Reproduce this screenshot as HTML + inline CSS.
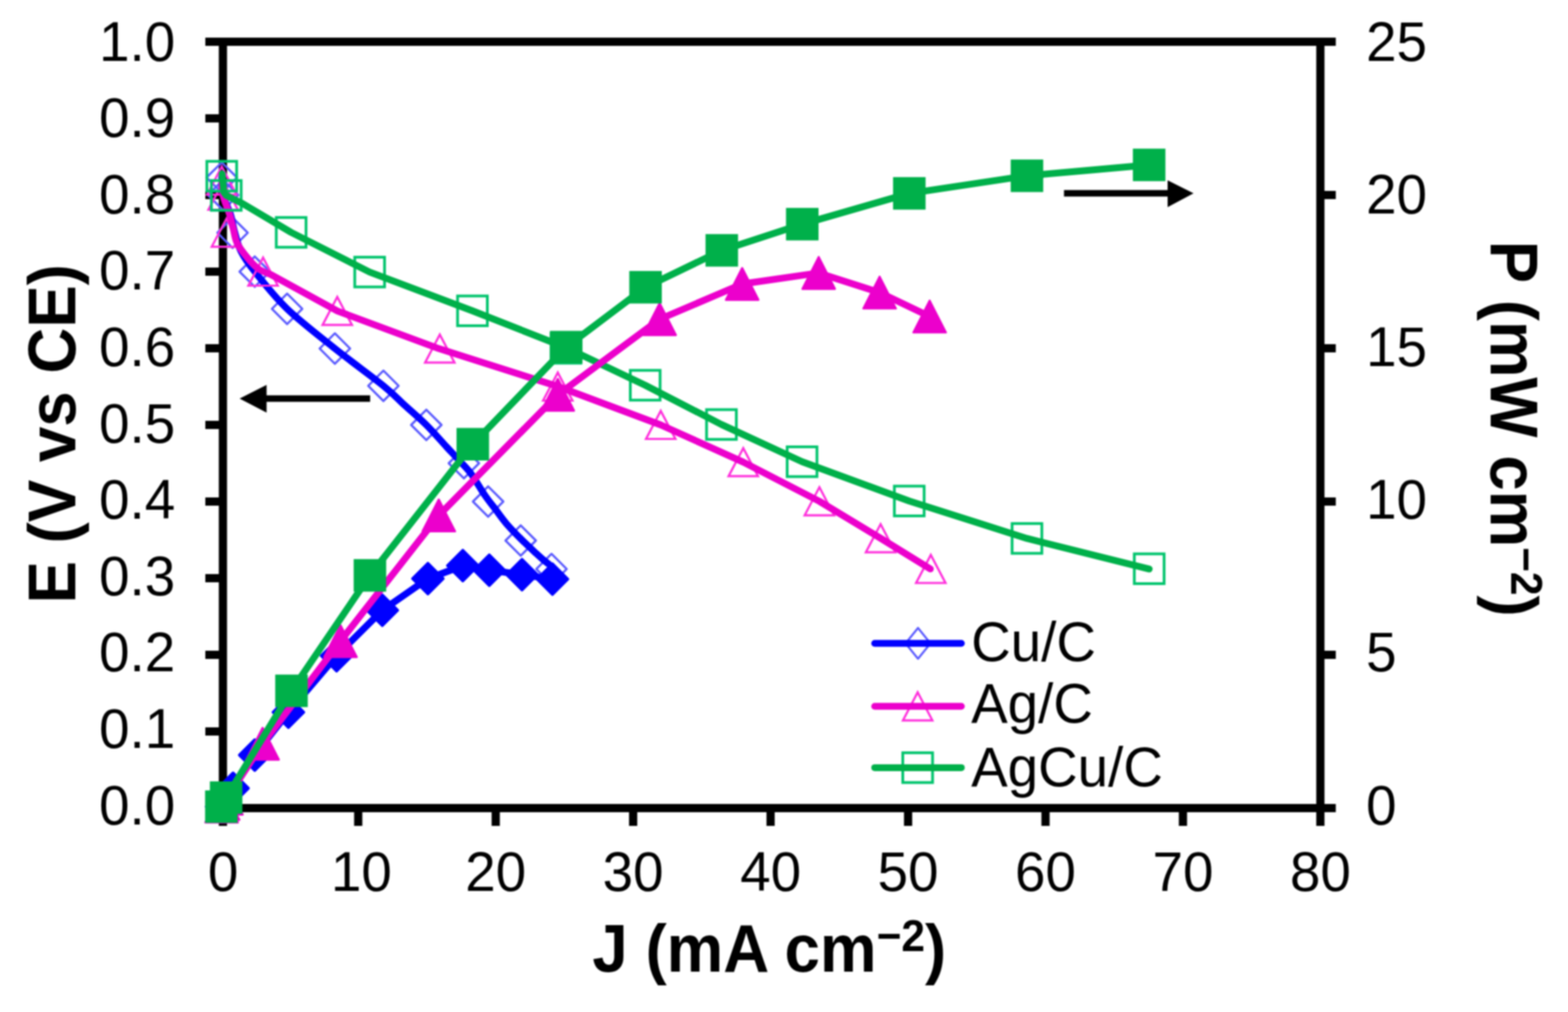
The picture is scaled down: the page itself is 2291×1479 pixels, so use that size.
<!DOCTYPE html>
<html><head><meta charset="utf-8"><title>Polarization and power density curves</title>
<style>html,body{margin:0;padding:0;background:#fff;}svg{display:block;filter:blur(0.8px);}text{font-family:"Liberation Sans",Arial,sans-serif;fill:#000;}</style>
</head><body>
<svg width="2291" height="1479" viewBox="0 0 2291 1479">
<rect width="2291" height="1479" fill="#fff"/>
<g stroke="#000" stroke-width="12.0" fill="none" stroke-linecap="butt">
<path d="M300.0 61.0 H1951.7"/>
<path d="M300.0 1181.0 H1951.7"/>
<path d="M325.7 55.0 V1207.0"/>
<path d="M1929.2 55.0 V1207.0"/>
<path d="M300 1069.0 H325.7"/>
<path d="M300 957.0 H325.7"/>
<path d="M300 845.0 H325.7"/>
<path d="M300 733.0 H325.7"/>
<path d="M300 621.0 H325.7"/>
<path d="M300 509.0 H325.7"/>
<path d="M300 397.0 H325.7"/>
<path d="M300 285.0 H325.7"/>
<path d="M300 173.0 H325.7"/>
<path d="M1929.2 957.0 H1951.7"/>
<path d="M1929.2 733.0 H1951.7"/>
<path d="M1929.2 509.0 H1951.7"/>
<path d="M1929.2 285.0 H1951.7"/>
<path d="M523.4 1181.0 V1207.0"/>
<path d="M724.3 1181.0 V1207.0"/>
<path d="M925.1 1181.0 V1207.0"/>
<path d="M1125.9 1181.0 V1207.0"/>
<path d="M1326.8 1181.0 V1207.0"/>
<path d="M1527.6 1181.0 V1207.0"/>
<path d="M1728.4 1181.0 V1207.0"/>
</g>
<g font-size="80">
<text transform="translate(256.0 1204.6) scale(1 1.030)" text-anchor="end">0.0</text>
<text transform="translate(256.0 1093.0) scale(1 1.030)" text-anchor="end">0.1</text>
<text transform="translate(256.0 981.4) scale(1 1.030)" text-anchor="end">0.2</text>
<text transform="translate(256.0 869.8) scale(1 1.030)" text-anchor="end">0.3</text>
<text transform="translate(256.0 758.2) scale(1 1.030)" text-anchor="end">0.4</text>
<text transform="translate(256.0 646.5) scale(1 1.030)" text-anchor="end">0.5</text>
<text transform="translate(256.0 534.9) scale(1 1.030)" text-anchor="end">0.6</text>
<text transform="translate(256.0 423.3) scale(1 1.030)" text-anchor="end">0.7</text>
<text transform="translate(256.0 311.7) scale(1 1.030)" text-anchor="end">0.8</text>
<text transform="translate(256.0 200.1) scale(1 1.030)" text-anchor="end">0.9</text>
<text transform="translate(256.0 88.5) scale(1 1.030)" text-anchor="end">1.0</text>
<text transform="translate(1996.0 1204.6) scale(1 1.030)">0</text>
<text transform="translate(1996.0 981.4) scale(1 1.030)">5</text>
<text transform="translate(1996.0 758.2) scale(1 1.030)">10</text>
<text transform="translate(1996.0 534.9) scale(1 1.030)">15</text>
<text transform="translate(1996.0 311.7) scale(1 1.030)">20</text>
<text transform="translate(1996.0 88.5) scale(1 1.030)">25</text>
<text transform="translate(326.0 1302.0) scale(1 1.030)" text-anchor="middle">0</text>
<text transform="translate(527.9 1302.0) scale(1 1.030)" text-anchor="middle">10</text>
<text transform="translate(724.3 1302.0) scale(1 1.030)" text-anchor="middle">20</text>
<text transform="translate(925.1 1302.0) scale(1 1.030)" text-anchor="middle">30</text>
<text transform="translate(1125.9 1302.0) scale(1 1.030)" text-anchor="middle">40</text>
<text transform="translate(1326.8 1302.0) scale(1 1.030)" text-anchor="middle">50</text>
<text transform="translate(1527.6 1302.0) scale(1 1.030)" text-anchor="middle">60</text>
<text transform="translate(1728.4 1302.0) scale(1 1.030)" text-anchor="middle">70</text>
<text transform="translate(1929.2 1302.0) scale(1 1.030)" text-anchor="middle">80</text>
</g>
<g font-size="93" font-weight="bold">
<text transform="translate(1124 1420) scale(1 1.050)" text-anchor="middle">J (mA cm<tspan font-size="62" dy="-29">−2</tspan><tspan dy="29">)</tspan></text>
<text transform="translate(109.6 634) rotate(-90) scale(1 1.050)" text-anchor="middle">E (V vs CE)</text>
<text transform="translate(2177.8 626.5) rotate(90) scale(1 1.050)" text-anchor="middle">P (mW cm<tspan font-size="62" dy="-29">−2</tspan><tspan dy="29">)</tspan></text>
</g>
<polygon points="324.00,237.30 346.20,259.50 324.00,281.70 301.80,259.50" fill="none" stroke="#5A5AFF" stroke-width="3.2" stroke-linejoin="round"/>
<polygon points="326.00,262.80 348.20,285.00 326.00,307.20 303.80,285.00" fill="none" stroke="#5A5AFF" stroke-width="3.2" stroke-linejoin="round"/>
<polygon points="339.80,318.00 362.00,340.20 339.80,362.40 317.60,340.20" fill="none" stroke="#5A5AFF" stroke-width="3.2" stroke-linejoin="round"/>
<polygon points="372.20,374.80 394.40,397.00 372.20,419.20 350.00,397.00" fill="none" stroke="#5A5AFF" stroke-width="3.2" stroke-linejoin="round"/>
<polygon points="419.50,429.20 441.70,451.40 419.50,473.60 397.30,451.40" fill="none" stroke="#5A5AFF" stroke-width="3.2" stroke-linejoin="round"/>
<polygon points="489.30,487.20 511.50,509.40 489.30,531.60 467.10,509.40" fill="none" stroke="#5A5AFF" stroke-width="3.2" stroke-linejoin="round"/>
<polygon points="560.20,541.60 582.40,563.80 560.20,586.00 538.00,563.80" fill="none" stroke="#5A5AFF" stroke-width="3.2" stroke-linejoin="round"/>
<polygon points="622.90,598.80 645.10,621.00 622.90,643.20 600.70,621.00" fill="none" stroke="#5A5AFF" stroke-width="3.2" stroke-linejoin="round"/>
<polygon points="677.80,654.80 700.00,677.00 677.80,699.20 655.60,677.00" fill="none" stroke="#5A5AFF" stroke-width="3.2" stroke-linejoin="round"/>
<polygon points="713.20,710.80 735.40,733.00 713.20,755.20 691.00,733.00" fill="none" stroke="#5A5AFF" stroke-width="3.2" stroke-linejoin="round"/>
<polygon points="760.80,767.80 783.00,790.00 760.80,812.20 738.60,790.00" fill="none" stroke="#5A5AFF" stroke-width="3.2" stroke-linejoin="round"/>
<polygon points="805.80,809.40 828.00,831.60 805.80,853.80 783.60,831.60" fill="none" stroke="#5A5AFF" stroke-width="3.2" stroke-linejoin="round"/>
<path d="M324.00 259.50 C324.33 263.75 323.83 275.92 326.00 285.00 C328.17 294.08 334.23 305.17 337.00 314.00 C339.77 322.83 340.10 329.17 342.60 338.00 C345.10 346.83 347.07 357.17 352.00 367.00 C356.93 376.83 360.95 382.93 372.20 397.00 C383.45 411.07 399.98 432.67 419.50 451.40 C439.02 470.13 465.85 490.67 489.30 509.40 C512.75 528.13 543.25 550.03 560.20 563.80 C577.15 577.57 580.55 582.47 591.00 592.00 C601.45 601.53 612.67 610.83 622.90 621.00 C633.13 631.17 644.55 644.50 652.40 653.00 C660.25 661.50 664.07 665.50 670.00 672.00 C675.93 678.50 681.68 683.50 688.00 692.00 C694.32 700.50 701.88 714.23 707.90 723.00 C713.92 731.77 718.75 737.53 724.10 744.60 C729.45 751.67 733.75 758.15 740.00 765.40 C746.25 772.65 754.38 780.88 761.60 788.10 C768.82 795.32 777.88 803.65 783.30 808.70 C788.72 813.75 790.98 815.77 794.10 818.40 C797.22 821.03 800.68 823.48 802.00 824.50" fill="none" stroke="#0000FF" stroke-width="10.0" stroke-linecap="round" stroke-linejoin="round"/>
<polygon points="324.00,243.50 345.50,284.50 302.50,284.50" fill="none" stroke="#FF2EDC" stroke-width="3.2"/>
<polygon points="326.00,265.50 347.50,306.50 304.50,306.50" fill="none" stroke="#FF2EDC" stroke-width="3.2"/>
<polygon points="330.90,319.60 352.40,360.60 309.40,360.60" fill="none" stroke="#FF2EDC" stroke-width="3.2"/>
<polygon points="384.40,376.50 405.90,417.50 362.90,417.50" fill="none" stroke="#FF2EDC" stroke-width="3.2"/>
<polygon points="492.80,433.90 514.30,474.90 471.30,474.90" fill="none" stroke="#FF2EDC" stroke-width="3.2"/>
<polygon points="642.60,488.90 664.10,529.90 621.10,529.90" fill="none" stroke="#FF2EDC" stroke-width="3.2"/>
<polygon points="815.00,544.50 836.50,585.50 793.50,585.50" fill="none" stroke="#FF2EDC" stroke-width="3.2"/>
<polygon points="965.40,600.50 986.90,641.50 943.90,641.50" fill="none" stroke="#FF2EDC" stroke-width="3.2"/>
<polygon points="1086.00,654.90 1107.50,695.90 1064.50,695.90" fill="none" stroke="#FF2EDC" stroke-width="3.2"/>
<polygon points="1197.20,712.10 1218.70,753.10 1175.70,753.10" fill="none" stroke="#FF2EDC" stroke-width="3.2"/>
<polygon points="1286.60,766.10 1308.10,807.10 1265.10,807.10" fill="none" stroke="#FF2EDC" stroke-width="3.2"/>
<polygon points="1360.00,811.00 1381.50,852.00 1338.50,852.00" fill="none" stroke="#FF2EDC" stroke-width="3.2"/>
<path d="M324.00 264.00 C324.33 267.67 324.07 277.70 326.00 286.00 C327.93 294.30 333.10 305.63 335.60 313.80 C338.10 321.97 339.17 328.02 341.00 335.00 C342.83 341.98 343.07 348.62 346.60 355.70 C350.13 362.78 357.02 371.28 362.20 377.50 C367.38 383.72 372.00 388.98 377.70 393.00 C383.40 397.02 393.28 400.17 396.40 401.60 L493.2 454.6 L641.5 509.6 L815.0 564.7 L965.4 621.0 L1086.0 675.4 L1197.2 732.6 L1286.6 786.6 L1359.3 831.5" fill="none" stroke="#EC00CC" stroke-width="10.0" stroke-linecap="round" stroke-linejoin="round"/>
<rect x="302.25" y="235.75" width="43.50" height="43.50" fill="none" stroke="#00C46C" stroke-width="4"/>
<rect x="308.85" y="263.85" width="43.50" height="43.50" fill="none" stroke="#00C46C" stroke-width="4"/>
<rect x="403.65" y="317.85" width="43.50" height="43.50" fill="none" stroke="#00C46C" stroke-width="4"/>
<rect x="518.35" y="375.85" width="43.50" height="43.50" fill="none" stroke="#00C46C" stroke-width="4"/>
<rect x="668.55" y="432.55" width="43.50" height="43.50" fill="none" stroke="#00C46C" stroke-width="4"/>
<rect x="805.25" y="487.25" width="43.50" height="43.50" fill="none" stroke="#00C46C" stroke-width="4"/>
<rect x="920.95" y="541.25" width="43.50" height="43.50" fill="none" stroke="#00C46C" stroke-width="4"/>
<rect x="1032.35" y="598.65" width="43.50" height="43.50" fill="none" stroke="#00C46C" stroke-width="4"/>
<rect x="1150.15" y="653.05" width="43.50" height="43.50" fill="none" stroke="#00C46C" stroke-width="4"/>
<rect x="1306.75" y="710.45" width="43.50" height="43.50" fill="none" stroke="#00C46C" stroke-width="4"/>
<rect x="1478.75" y="765.15" width="43.50" height="43.50" fill="none" stroke="#00C46C" stroke-width="4"/>
<rect x="1657.35" y="809.45" width="43.50" height="43.50" fill="none" stroke="#00C46C" stroke-width="4"/>
<path d="M324.5 254.0 L327.0 281.0 L330.6 285.6 L354.4 297.5 L425.4 339.6 L540.1 397.6 L690.3 454.3 L827.0 508.0 L942.7 563.0 L1054.1 620.4 L1171.9 674.8 L1328.5 732.2 L1500.5 786.9 L1679.1 831.6" fill="none" stroke="#00B04A" stroke-width="10.0" stroke-linecap="round" stroke-linejoin="round"/>
<path d="M323.8 1178.8 L326.0 1174.9 L340.5 1152.0 L372.2 1103.5 L421.4 1040.9 L491.8 958.3 L558.6 891.9 L625.2 845.7 L676.2 826.7 L714.9 833.3 L762.7 839.8 L807.2 846.4" fill="none" stroke="#0000FF" stroke-width="10.0" stroke-linecap="round" stroke-linejoin="round"/>
<polygon points="323.80,1156.30 346.30,1178.80 323.80,1201.30 301.30,1178.80" fill="#0000FF" stroke="#0000FF" stroke-width="4" stroke-linejoin="round"/>
<polygon points="326.00,1152.40 348.50,1174.90 326.00,1197.40 303.50,1174.90" fill="#0000FF" stroke="#0000FF" stroke-width="4" stroke-linejoin="round"/>
<polygon points="340.50,1129.50 363.00,1152.00 340.50,1174.50 318.00,1152.00" fill="#0000FF" stroke="#0000FF" stroke-width="4" stroke-linejoin="round"/>
<polygon points="372.20,1081.00 394.70,1103.50 372.20,1126.00 349.70,1103.50" fill="#0000FF" stroke="#0000FF" stroke-width="4" stroke-linejoin="round"/>
<polygon points="421.40,1018.40 443.90,1040.90 421.40,1063.40 398.90,1040.90" fill="#0000FF" stroke="#0000FF" stroke-width="4" stroke-linejoin="round"/>
<polygon points="491.80,935.80 514.30,958.30 491.80,980.80 469.30,958.30" fill="#0000FF" stroke="#0000FF" stroke-width="4" stroke-linejoin="round"/>
<polygon points="558.60,869.40 581.10,891.90 558.60,914.40 536.10,891.90" fill="#0000FF" stroke="#0000FF" stroke-width="4" stroke-linejoin="round"/>
<polygon points="625.20,823.20 647.70,845.70 625.20,868.20 602.70,845.70" fill="#0000FF" stroke="#0000FF" stroke-width="4" stroke-linejoin="round"/>
<polygon points="676.20,804.20 698.70,826.70 676.20,849.20 653.70,826.70" fill="#0000FF" stroke="#0000FF" stroke-width="4" stroke-linejoin="round"/>
<polygon points="714.90,810.80 737.40,833.30 714.90,855.80 692.40,833.30" fill="#0000FF" stroke="#0000FF" stroke-width="4" stroke-linejoin="round"/>
<polygon points="762.70,817.30 785.20,839.80 762.70,862.30 740.20,839.80" fill="#0000FF" stroke="#0000FF" stroke-width="4" stroke-linejoin="round"/>
<polygon points="807.20,823.90 829.70,846.40 807.20,868.90 784.70,846.40" fill="#0000FF" stroke="#0000FF" stroke-width="4" stroke-linejoin="round"/>
<path d="M323.8 1178.8 L326.0 1174.9 L330.9 1167.2 L383.7 1087.0 L497.5 937.0 L641.1 753.3 L815.0 577.0 L963.8 466.5 L1084.4 415.0 L1196.2 398.9 L1285.2 427.6 L1358.3 462.6" fill="none" stroke="#EC00CC" stroke-width="10.0" stroke-linecap="round" stroke-linejoin="round"/>
<polygon points="323.80,1155.55 347.55,1202.05 300.05,1202.05" fill="#EC00CC" stroke="#EC00CC" stroke-width="3" stroke-linejoin="round"/>
<polygon points="326.00,1151.65 349.75,1198.15 302.25,1198.15" fill="#EC00CC" stroke="#EC00CC" stroke-width="3" stroke-linejoin="round"/>
<polygon points="330.90,1143.95 354.65,1190.45 307.15,1190.45" fill="#EC00CC" stroke="#EC00CC" stroke-width="3" stroke-linejoin="round"/>
<polygon points="383.70,1063.75 407.45,1110.25 359.95,1110.25" fill="#EC00CC" stroke="#EC00CC" stroke-width="3" stroke-linejoin="round"/>
<polygon points="497.50,913.75 521.25,960.25 473.75,960.25" fill="#EC00CC" stroke="#EC00CC" stroke-width="3" stroke-linejoin="round"/>
<polygon points="641.10,730.05 664.85,776.55 617.35,776.55" fill="#EC00CC" stroke="#EC00CC" stroke-width="3" stroke-linejoin="round"/>
<polygon points="815.00,553.75 838.75,600.25 791.25,600.25" fill="#EC00CC" stroke="#EC00CC" stroke-width="3" stroke-linejoin="round"/>
<polygon points="963.80,443.25 987.55,489.75 940.05,489.75" fill="#EC00CC" stroke="#EC00CC" stroke-width="3" stroke-linejoin="round"/>
<polygon points="1084.40,391.75 1108.15,438.25 1060.65,438.25" fill="#EC00CC" stroke="#EC00CC" stroke-width="3" stroke-linejoin="round"/>
<polygon points="1196.20,375.65 1219.95,422.15 1172.45,422.15" fill="#EC00CC" stroke="#EC00CC" stroke-width="3" stroke-linejoin="round"/>
<polygon points="1285.20,404.35 1308.95,450.85 1261.45,450.85" fill="#EC00CC" stroke="#EC00CC" stroke-width="3" stroke-linejoin="round"/>
<polygon points="1358.30,439.35 1382.05,485.85 1334.55,485.85" fill="#EC00CC" stroke="#EC00CC" stroke-width="3" stroke-linejoin="round"/>
<path d="M323.4 1178.9 L330.4 1165.7 L425.9 1009.6 L540.5 840.9 L690.8 649.2 L827.3 507.3 L943.2 419.8 L1054.6 365.9 L1172.2 327.6 L1328.6 282.6 L1500.5 256.9 L1679.0 241.0" fill="none" stroke="#00B04A" stroke-width="10.0" stroke-linecap="round" stroke-linejoin="round"/>
<rect x="299.65" y="1155.15" width="47.50" height="47.50" fill="#00B04A"/>
<rect x="306.65" y="1141.95" width="47.50" height="47.50" fill="#00B04A"/>
<rect x="402.15" y="985.85" width="47.50" height="47.50" fill="#00B04A"/>
<rect x="516.75" y="817.15" width="47.50" height="47.50" fill="#00B04A"/>
<rect x="667.05" y="625.45" width="47.50" height="47.50" fill="#00B04A"/>
<rect x="803.55" y="483.55" width="47.50" height="47.50" fill="#00B04A"/>
<rect x="919.45" y="396.05" width="47.50" height="47.50" fill="#00B04A"/>
<rect x="1030.85" y="342.15" width="47.50" height="47.50" fill="#00B04A"/>
<rect x="1148.45" y="303.85" width="47.50" height="47.50" fill="#00B04A"/>
<rect x="1304.85" y="258.85" width="47.50" height="47.50" fill="#00B04A"/>
<rect x="1476.75" y="233.15" width="47.50" height="47.50" fill="#00B04A"/>
<rect x="1655.25" y="217.25" width="47.50" height="47.50" fill="#00B04A"/>
<path d="M389 582.5 H540.8" stroke="#000" stroke-width="9.5"/>
<polygon points="350.1,582.5 389.5,562.6 389.5,602.9" fill="#000"/>
<path d="M1554.6 282.4 H1706.5" stroke="#000" stroke-width="9.5"/>
<polygon points="1743.9,282.6 1706,263.6 1706,302.8" fill="#000"/>
<polygon points="1341.3,917.7 1359.5,940.2 1341.3,962.7 1323.1,940.2" fill="none" stroke="#5A5AFF" stroke-width="3" stroke-linejoin="round"/>
<path d="M1278 940.2 H1404.6" stroke="#0000FF" stroke-width="10" stroke-linecap="round"/>
<text transform="translate(1419 966.3) scale(1 1.030)" font-size="80">Cu/C</text>
<polygon points="1340.80,1011.80 1362.30,1052.80 1319.30,1052.80" fill="none" stroke="#FF2EDC" stroke-width="3.2"/>
<path d="M1278 1032.3 H1404.6" stroke="#EC00CC" stroke-width="10" stroke-linecap="round"/>
<text transform="translate(1419 1055.8) scale(1 1.030)" font-size="80">Ag/C</text>
<rect x="1319.05" y="1100.15" width="43.50" height="43.50" fill="none" stroke="#00C46C" stroke-width="4"/>
<path d="M1278 1121.9 H1404.6" stroke="#00B04A" stroke-width="10" stroke-linecap="round"/>
<text transform="translate(1419 1149.0) scale(1 1.030)" font-size="80">AgCu/C</text>
</svg>
</body></html>
